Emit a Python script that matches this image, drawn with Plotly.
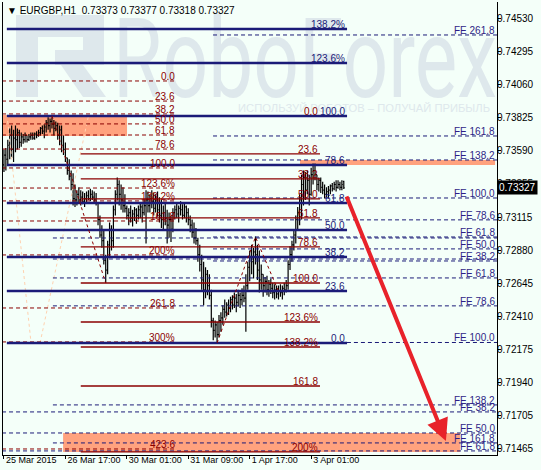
import base64
import plotly.graph_objects as go

# EURGBP H1 bars (oldest -> newest)
open_ = [.7349, .7356, .7353, .7363, .7370, .7360, .7368, .7367, .7372, .7365,
         .7369, .7367, .7370, .7367, .7369, .7370, .7368, .7371, .7370, .7372,
         .7375, .7373, .7376, .7379, .7377, .7380, .7378, .7375, .7377, .7370,
         .7374, .7363, .7360, .7354, .7345, .7341, .7335, .7325, .7324, .7328,
         .7324, .7326, .7323, .7325, .7327, .7325, .7328, .7326, .7324, .7322,
         .7310, .7299, .7295, .7281, .7274, .7292, .7303, .7295, .7317, .7328,
         .7335, .7328, .7324, .7320, .7318, .7313, .7315, .7311, .7314, .7317,
         .7313, .7317, .7319, .7315, .7320, .7324, .7320, .7325, .7323, .7318,
         .7324, .7317, .7313, .7310, .7315, .7311, .7306, .7310, .7303, .7315,
         .7317, .7314, .7318, .7317, .7313, .7319, .7315, .7310, .7306, .7301,
         .7297, .7295, .7285, .7278, .7267, .7260, .7271, .7263, .7256, .7238,
         .7231, .7235, .7228, .7238, .7240, .7246, .7244, .7249, .7247, .7253,
         .7249, .7254, .7251, .7256, .7253, .7256, .7254, .7263, .7276, .7283,
         .7280, .7287, .7285, .7274, .7267, .7271, .7263, .7266, .7260, .7264,
         .7261, .7258, .7260, .7257, .7259, .7258, .7261, .7260, .7263, .7278,
         .7285, .7292, .7299, .7310, .7315, .7324, .7335, .7340, .7331, .7338,
         .7328, .7342, .7345, .7342, .7335, .7338, .7333, .7331, .7328, .7330,
         .7331, .7334, .7332, .7335, .7333, .7335, .7333, .73373]
high = [.7360, .7361, .7367, .7375, .7377, .7374, .7377, .7375, .7374, .7372,
        .7371, .7372, .7370, .7371, .7372, .7372, .7372, .7373, .7374, .7376,
        .7377, .7378, .7381, .7383, .7382, .7383, .7381, .7380, .7379, .7377,
        .7377, .7370, .7365, .7354, .7353, .7345, .7343, .7335, .7331, .7333,
        .7331, .7330, .7329, .7330, .7331, .7332, .7331, .7330, .7329, .7322,
        .7313, .7306, .7303, .7285, .7295, .7308, .7306, .7320, .7331, .7340,
        .7338, .7335, .7333, .7328, .7320, .7318, .7320, .7317, .7319, .7318,
        .7320, .7322, .7321, .7324, .7331, .7330, .7328, .7331, .7329, .7328,
        .7330, .7326, .7324, .7320, .7322, .7317, .7315, .7313, .7318, .7320,
        .7322, .7320, .7323, .7321, .7322, .7320, .7318, .7313, .7310, .7308,
        .7304, .7297, .7292, .7285, .7280, .7276, .7274, .7271, .7260, .7240,
        .7238, .7237, .7242, .7244, .7249, .7253, .7251, .7253, .7255, .7256,
        .7258, .7257, .7260, .7258, .7261, .7263, .7271, .7280, .7288, .7292,
        .7290, .7298, .7292, .7288, .7278, .7271, .7269, .7270, .7267, .7268,
        .7265, .7264, .7263, .7263, .7264, .7263, .7265, .7267, .7281, .7291,
        .7295, .7303, .7313, .7319, .7328, .7342, .7345, .7344, .7345, .7342,
        .7347, .7350, .7350, .7342, .7340, .7340, .7337, .7335, .7333, .7334,
        .7335, .7336, .7337, .7338, .7338, .7337, .7338, .73377]
low = [.7344, .7345, .7349, .7353, .7354, .7351, .7358, .7360, .7361, .7362,
       .7364, .7365, .7365, .7366, .7367, .7367, .7367, .7368, .7369, .7370,
       .7371, .7368, .7372, .7374, .7372, .7375, .7370, .7373, .7367, .7363,
       .7358, .7356, .7351, .7342, .7338, .7331, .7320, .7319, .7320, .7322,
       .7320, .7321, .7319, .7322, .7324, .7323, .7324, .7322, .7320, .7306,
       .7297, .7290, .7278, .7265, .7271, .7283, .7288, .7290, .7313, .7324,
       .7320, .7317, .7315, .7315, .7310, .7306, .7308, .7305, .7309, .7307,
       .7310, .7311, .7308, .7313, .7293, .7315, .7315, .7318, .7313, .7315,
       .7312, .7308, .7304, .7303, .7306, .7293, .7297, .7294, .7301, .7310,
       .7311, .7308, .7313, .7310, .7311, .7308, .7306, .7301, .7297, .7293,
       .7292, .7280, .7273, .7260, .7249, .7254, .7256, .7253, .7233, .7224,
       .7226, .7222, .7226, .7230, .7235, .7240, .7241, .7242, .7244, .7246,
       .7247, .7244, .7248, .7247, .7249, .7251, .7230, .7260, .7266, .7271,
       .7268, .7278, .7267, .7258, .7260, .7255, .7258, .7256, .7255, .7257,
       .7254, .7253, .7254, .7253, .7255, .7253, .7256, .7258, .7260, .7274,
       .7280, .7288, .7293, .7303, .7306, .7310, .7320, .7324, .7328, .7320,
       .7327, .7335, .7338, .7331, .7330, .7329, .7328, .7325, .7326, .7325,
       .7328, .7330, .7331, .7330, .7332, .7331, .7331, .73318]
close = [.7356, .7353, .7363, .7370, .7360, .7368, .7367, .7372, .7365, .7369,
         .7367, .7370, .7367, .7369, .7370, .7368, .7371, .7370, .7372, .7375,
         .7373, .7376, .7379, .7377, .7380, .7378, .7375, .7377, .7370, .7374,
         .7363, .7360, .7354, .7345, .7341, .7335, .7325, .7324, .7328, .7324,
         .7326, .7323, .7325, .7327, .7325, .7328, .7326, .7324, .7322, .7310,
         .7299, .7295, .7281, .7274, .7292, .7303, .7295, .7317, .7328, .7335,
         .7328, .7324, .7320, .7318, .7313, .7315, .7311, .7314, .7317, .7313,
         .7317, .7319, .7315, .7320, .7324, .7320, .7325, .7323, .7318, .7324,
         .7317, .7313, .7310, .7315, .7311, .7306, .7310, .7303, .7315, .7317,
         .7314, .7318, .7317, .7313, .7319, .7315, .7310, .7306, .7301, .7297,
         .7295, .7285, .7278, .7267, .7260, .7271, .7263, .7256, .7238, .7231,
         .7235, .7228, .7238, .7240, .7246, .7244, .7249, .7247, .7253, .7249,
         .7254, .7251, .7256, .7253, .7256, .7254, .7263, .7276, .7283, .7280,
         .7287, .7285, .7274, .7267, .7271, .7263, .7266, .7260, .7264, .7261,
         .7258, .7260, .7257, .7259, .7258, .7261, .7260, .7263, .7278, .7285,
         .7292, .7299, .7310, .7315, .7324, .7335, .7340, .7331, .7338, .7328,
         .7342, .7345, .7342, .7335, .7338, .7333, .7331, .7328, .7330, .7331,
         .7334, .7332, .7335, .7333, .7335, .7333, .7335, .73327]

time_ticks = [0, 32, 64, 96, 128, 160]
time_labels = ["25 Mar 2015", "26 Mar 17:00", "30 Mar 01:00", "31 Mar 09:00",
               "1 Apr 17:00", "3 Apr 01:00"]
price_ticks = [0.74530, 0.74295, 0.74060, 0.73825, 0.73590, 0.73355, 0.73115,
               0.72880, 0.72645, 0.72410, 0.72175, 0.71940, 0.71705, 0.71465]

# Fibonacci retracement (navy, thick)
fib_navy = [0.74459, 0.74216, 0.73839, 0.73489, 0.73218, 0.73026, 0.72834, 0.72591, 0.72221]
fib_navy_txt = ["138.2%", "123.6%", "100.0", "78.6", "61.8", "50.0", "38.2", "23.6", "0.0"]
fib_navy_bars = (1.5, 178.7)

# Fibonacci (dark red, dashed, left)
fib_red1 = [0.74088, 0.73945, 0.73853, 0.73782, 0.73703, 0.73603, 0.73468, 0.73325,
            0.73233, 0.73090, 0.72848, 0.72470, 0.72228, 0.71465]
fib_red1_txt = ["0.0", "23.6", "38.2", "50.0", "61.8", "78.6", "100.0", "123.6%",
                "138.2%", "161.8", "200%", "261.8", "300%", "423.6"]
fib_red1_bars = (-1, 90.1)

# Fibonacci (dark red, solid)
fib_red2 = [0.73839, 0.73568, 0.73390, 0.73247, 0.73112, 0.72905, 0.72648, 0.72370,
            0.72192, 0.71914, 0.71444]
fib_red2_txt = ["0.0", "23.6", "38.2", "50.0", "61.8", "78.6", "100.0", "123.6%",
                "138.2%", "161.8", "200%"]
fib_red2_bars = (40.0, 164.6)

# Fibonacci expansions (navy, dashed)
fe_a = [0.74416, 0.73696, 0.73525, 0.73254, 0.73098, 0.72976, 0.72891, 0.72805]
fe_a_txt = ["FE 261.8", "FE 161.8", "FE 138.2", "FE 100.0", "FE 78.6", "FE 61.8",
            "FE 50.0", "FE 38.2"]
fe_a_bars = (108.9, 256.8)
fe_b = [0.72969, 0.72819, 0.72684, 0.72485, 0.72224, 0.71779, 0.71508]
fe_b_txt = ["", "", "FE 61.8", "FE 78.6", "FE 100.0", "FE 138.2", "FE 161.8"]
fe_b_bars = (25.5, 256.8)
fe_c = [0.71729, 0.71579, 0.71451]
fe_c_txt = ["FE 38.2", "FE 50.0", "FE 61.8"]
fe_c_bars = (-1, 256.8)

# target zones (bar from, bar to, price top, price bottom)
zones = [(-0.5, 64.1, 0.73846, 0.73696),
         (154.2, 255.8, 0.73525, 0.73489),
         (30.8, 237.5, 0.71579, 0.71444)]

# trend lines of the Fibonacci objects
red_trend = [([25, 53], [0.73839, 0.72648]),
             ([111, 131, 142.7], [0.72221, 0.72976, 0.72598])]
peach_trend = [([18.8, 44], [0.72221, 0.73839]),
               ([1.6, 14.1], [0.73846, 0.72221])]

# forecast arrow: from (bar, price) to (bar, price)
arrow_from = (178.1, 0.73275)
arrow_to = (230.2, 0.71522)

BG = "#F4FFF9"
NAVY = "#1B1B78"
DRED = "#8B0000"
FONT = "Liberation Sans"

# broker watermark, drawn under everything in the plot area (494 x 453 px)
WM = "#DEE8EC"
watermark_svg = f"""<svg xmlns='http://www.w3.org/2000/svg' width='494' height='453' viewBox='0 0 494 453'>
<g fill='{WM}'>
<rect x='13' y='13' width='22' height='82'/>
<rect x='13' y='13' width='88' height='22'/>
<rect x='80' y='13' width='21' height='50'/>
<rect x='52' y='48' width='49' height='15'/>
<polygon points='58,63 80,63 103,95 80,95'/>
<text x='110' y='95' font-family='Roboto' font-size='112' textLength='384'
 lengthAdjust='spacingAndGlyphs'>RoboForex</text>
<text x='235' y='110' font-family='Liberation Sans' font-size='11' textLength='252'
 lengthAdjust='spacingAndGlyphs'>ИСПОЛЬЗУЙ РОБОТОВ – ПОЛУЧАЙ ПРИБЫЛЬ</text>
</g></svg>"""
watermark_uri = "data:image/svg+xml;base64," + base64.b64encode(
    watermark_svg.encode("utf-8")).decode("ascii")

fig = go.Figure()

fig.add_layout_image(source=watermark_uri, xref="paper", yref="paper", x=0, y=1,
                     sizex=1, sizey=1, xanchor="left", yanchor="top",
                     sizing="stretch", layer="below")

for x0, x1, y0, y1 in zones:
    fig.add_shape(type="rect", x0=x0, x1=x1, y0=y0, y1=y1, xref="x", yref="y",
                  fillcolor="#FFA27E", line_width=0, layer="below")


def add_levels(prices, labels, bars, color, width, dash, txt_color):
    xs, ys = [], []
    for p in prices:
        xs += [bars[0], bars[1], None]
        ys += [p, p, None]
    fig.add_trace(go.Scatter(x=xs, y=ys, mode="lines", hoverinfo="skip",
                             line=dict(color=color, width=width, dash=dash)))
    for p, t in zip(prices, labels):
        if t:
            fig.add_annotation(x=bars[1], y=p, text=t, showarrow=False,
                               xanchor="right", yanchor="bottom", yshift=-3,
                               font=dict(family=FONT, size=10, color=txt_color))


for xs, ys in peach_trend:
    fig.add_trace(go.Scatter(x=xs, y=ys, mode="lines", hoverinfo="skip",
                             line=dict(color="#FFD2B0", width=1, dash="dot")))

add_levels(fib_red1, fib_red1_txt, fib_red1_bars, DRED, 1, "4px,3px", DRED)
add_levels(fe_b, fe_b_txt, fe_b_bars, NAVY, 1, "4px,3px", "#2E1E86")
add_levels(fe_c, fe_c_txt, fe_c_bars, NAVY, 1, "4px,3px", "#2E1E86")
add_levels(fe_a, fe_a_txt, fe_a_bars, NAVY, 1, "4px,3px", "#2E1E86")
add_levels(fib_red2, fib_red2_txt, fib_red2_bars, DRED, 1.3, "solid", DRED)
add_levels(fib_navy, fib_navy_txt, fib_navy_bars, NAVY, 2.5, "solid", NAVY)

for xs, ys in red_trend:
    fig.add_trace(go.Scatter(x=xs, y=ys, mode="lines", hoverinfo="skip",
                             line=dict(color=DRED, width=1, dash="dot")))

fig.add_trace(go.Ohlc(x=list(range(len(close))), open=open_, high=high, low=low, close=close,
                      increasing_line_color="black", decreasing_line_color="black",
                      line_width=1.2, tickwidth=0.5, hoverinfo="skip"))

fig.add_annotation(x=arrow_to[0], y=arrow_to[1], ax=arrow_from[0], ay=arrow_from[1],
                   xref="x", yref="y", axref="x", ayref="y", text="", showarrow=True,
                   arrowhead=2, arrowsize=1.1, arrowwidth=4, arrowcolor="#E8222A", standoff=0)

# header and current price
fig.add_annotation(xref="paper", yref="paper", x=0, y=1, xanchor="left", yanchor="top",
                   xshift=2, yshift=-1, showarrow=False,
                   text="▼ EURGBP,H1  0.73373 0.73377 0.73318 0.73327",
                   font=dict(family=FONT, size=10, color="black"))
fig.add_annotation(xref="paper", yref="y", x=1, y=close[-1], xanchor="left",
                   showarrow=False, text="0.73327", bgcolor="black", borderpad=1,
                   font=dict(family=FONT, size=10, color="white"))

fig.update_layout(
    width=541, height=470, margin=dict(l=3, r=44, t=2, b=15),
    plot_bgcolor=BG, paper_bgcolor=BG, showlegend=False,
    font=dict(family=FONT, size=10, color="black"),
    xaxis=dict(range=[-0.5, 256.8], tickvals=time_ticks, ticktext=time_labels,
               ticks="outside", ticklen=3, tickcolor="black", showline=True,
               linecolor="black", showgrid=False, zeroline=False, tickangle=0,
               tickfont=dict(size=9), ticklabelshift=1,
               ticklabelposition="outside right", ticklabelstandoff=-4,
               rangeslider=dict(visible=False), automargin=False),
    yaxis=dict(side="right", range=[0.71422, 0.74651], tickvals=price_ticks,
               ticktext=[f"{v:.5f}" for v in price_ticks], ticks="outside",
               ticklen=3, tickcolor="black", showline=True, mirror=True,
               linecolor="black", showgrid=False, zeroline=False,
               ticklabelstandoff=-6, automargin=False),
)

fig.write_html("out.html", config={"displayModeBar": False},
               post_script="document.body.style.margin='0px';"
               "document.body.style.overflow='hidden';")
